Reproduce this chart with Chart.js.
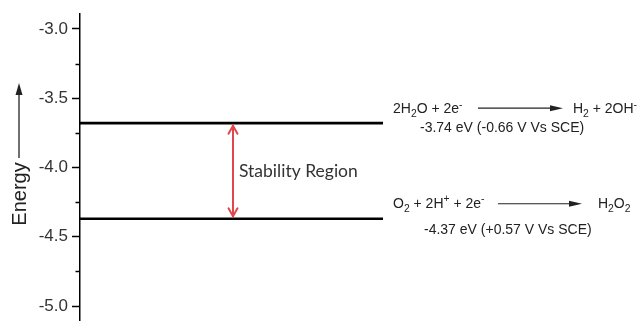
<!DOCTYPE html>
<html><head><meta charset="utf-8">
<script src="https://cdn.jsdelivr.net/npm/chart.js@4/dist/chart.umd.min.js"></script>
<style>html,body{margin:0;padding:0;background:#fff;}#wrap{width:638px;height:321px;position:relative;}</style>
</head><body><div id="wrap"><canvas id="c" width="638" height="321"></canvas></div>
<script>
// ---- data ----
const levelNames = ['H2O reduction', 'O2 reduction'];
const levelValues = [-3.68, -4.37];
const levelStart = [0, 0];
const levelEnd = [5.43, 5.43];
const yTickMajor = [-3.0, -3.5, -4.0, -4.5, -5.0];
const yMin = -5.108, yMax = -2.892;
const axisTitle = 'Energy';
const regionLabel = 'Stability Region';
const reactionLHS = [
  [['2H',0],['2',1],['O + 2e',0],['-',2]],
  [['O',0],['2',1],[' + 2H',0],['+',2],[' + 2e',0],['-',2]]
];
const reactionRHS = [
  [['H',0],['2',1],[' + 2OH',0],['-',2]],
  [['H',0],['2',1],['O',0],['2',1]]
];
const reactionNotes = ['-3.74 eV (-0.66 V Vs SCE)', '-4.37 eV (+0.57 V Vs SCE)'];

// ---- layout (pixels) ----
const L = {
  lhsX: 393, noteX: [420, 424],
  lhsDy: [-10, -11], arrowDy: [-15, -15], noteDy: [9, 15],
  arrowX: [[478, 563], [498, 582]], rhsX: [573, 598],
  regionArrowX: 233, regionTextX: 239
};
const TXT = '#222';
const FONT = '"Liberation Sans", Arial, sans-serif';

function drawRich(ctx, x, y, parts, size) {
  ctx.textBaseline = 'alphabetic'; ctx.textAlign = 'left';
  for (const [t, m] of parts) {
    const s = m === 0 ? size : size * 0.74;
    const dy = m === 1 ? size * 0.3 : (m === 2 ? -size * 0.4 : 0);
    ctx.font = s + 'px ' + FONT;
    ctx.fillText(t, x, y + dy);
    x += ctx.measureText(t).width;
  }
}

const decor = {
  id: 'decor',
  afterDraw(chart) {
    const ctx = chart.ctx, ys = chart.scales.y, area = chart.chartArea;
    ctx.save();
    // minor ticks
    ctx.strokeStyle = '#000'; ctx.lineWidth = 1.5;
    for (const t of ys.ticks) {
      const maj = Math.abs(t.value * 2 - Math.round(t.value * 2)) < 1e-6;
      if (!maj) {
        const p = Math.round(ys.getPixelForValue(t.value)) + 0.5;
        ctx.beginPath(); ctx.moveTo(area.left - 4.5, p); ctx.lineTo(area.left, p); ctx.stroke();
      }
    }
    // Energy label + arrow
    ctx.fillStyle = TXT; ctx.strokeStyle = '#222'; ctx.lineWidth = 1.3;
    ctx.save();
    ctx.translate(26, 194); ctx.rotate(-Math.PI / 2);
    ctx.font = '20px ' + FONT; ctx.textAlign = 'center'; ctx.textBaseline = 'alphabetic';
    ctx.fillText(axisTitle, 0, 0);
    ctx.restore();
    ctx.beginPath(); ctx.moveTo(19, 158); ctx.lineTo(19, 92); ctx.stroke();
    ctx.beginPath(); ctx.moveTo(19, 83); ctx.lineTo(22.5, 95); ctx.lineTo(15.5, 95); ctx.closePath(); ctx.fill();

    // reactions
    const size = 14;
    for (let i = 0; i < levelValues.length; i++) {
      const py = ys.getPixelForValue(levelValues[i]);
      ctx.fillStyle = TXT;
      drawRich(ctx, L.lhsX, py + L.lhsDy[i], reactionLHS[i], size);
      drawRich(ctx, L.rhsX[i], py + L.lhsDy[i], reactionRHS[i], size);
      ctx.font = size + 'px ' + FONT;
      ctx.fillText(reactionNotes[i], L.noteX[i], py + L.noteDy[i]);
      const ay = py + L.arrowDy[i];
      const [x0, x1] = L.arrowX[i];
      ctx.strokeStyle = '#222'; ctx.lineWidth = 1.2;
      ctx.beginPath(); ctx.moveTo(x0, ay); ctx.lineTo(x1 - 10, ay); ctx.stroke();
      ctx.beginPath(); ctx.moveTo(x1, ay); ctx.lineTo(x1 - 13, ay - 3); ctx.lineTo(x1 - 13, ay + 3); ctx.closePath(); ctx.fill();
    }

    // stability region arrow
    const yA = ys.getPixelForValue(levelValues[0]) + 2.5;
    const yB = ys.getPixelForValue(levelValues[1]) - 2.5;
    const ax = L.regionArrowX;
    ctx.strokeStyle = '#e0474c'; ctx.lineWidth = 2; ctx.lineCap = 'round';
    ctx.beginPath(); ctx.moveTo(ax, yA); ctx.lineTo(ax, yB); ctx.stroke();
    ctx.beginPath(); ctx.moveTo(ax - 4.5, yA + 8); ctx.lineTo(ax, yA); ctx.lineTo(ax + 4.5, yA + 8); ctx.stroke();
    ctx.beginPath(); ctx.moveTo(ax - 4.5, yB - 8); ctx.lineTo(ax, yB); ctx.lineTo(ax + 4.5, yB - 8); ctx.stroke();
    ctx.fillStyle = '#333'; ctx.font = '17.5px Lato, "Open Sans", sans-serif';
    ctx.textBaseline = 'middle'; ctx.textAlign = 'left';
    ctx.fillText(regionLabel, L.regionTextX, (yA + yB) / 2);
    ctx.restore();
  }
};

new Chart(document.getElementById('c'), {
  type: 'line',
  data: {
    datasets: levelValues.map((v, i) => ({
      label: levelNames[i],
      data: [{x: levelStart[i], y: v}, {x: levelEnd[i], y: v}],
      borderColor: '#000', borderWidth: 2.6, pointRadius: 0, fill: false
    }))
  },
  options: {
    responsive: false, animation: false, devicePixelRatio: 1,
    layout: {padding: {top: 14, left: 0, right: 0, bottom: 0}},
    plugins: {legend: {display: false}, tooltip: {enabled: false}},
    scales: {
      x: {type: 'linear', display: false, min: 0, max: 10},
      y: {
        type: 'linear', min: yMin, max: yMax, position: 'left',
        afterFit(s) { s.width = 80; s.paddingTop = 0; s.paddingBottom = 0; },
        border: {display: true, color: '#000', width: 1.5},
        grid: {drawOnChartArea: false, tickLength: 8, tickWidth: 1.5,
          tickColor: c => (c.tick && yTickMajor.some(v => Math.abs(v - c.tick.value) < 1e-6)) ? '#000' : 'rgba(0,0,0,0)'},
        ticks: {
          stepSize: 0.25, includeBounds: false, padding: 4, color: '#333',
          font: {family: FONT, size: 17},
          callback: v => yTickMajor.some(m => Math.abs(m - v) < 1e-6) ? v.toFixed(1) : ''
        }
      }
    }
  },
  plugins: [decor]
});
</script></body></html>
